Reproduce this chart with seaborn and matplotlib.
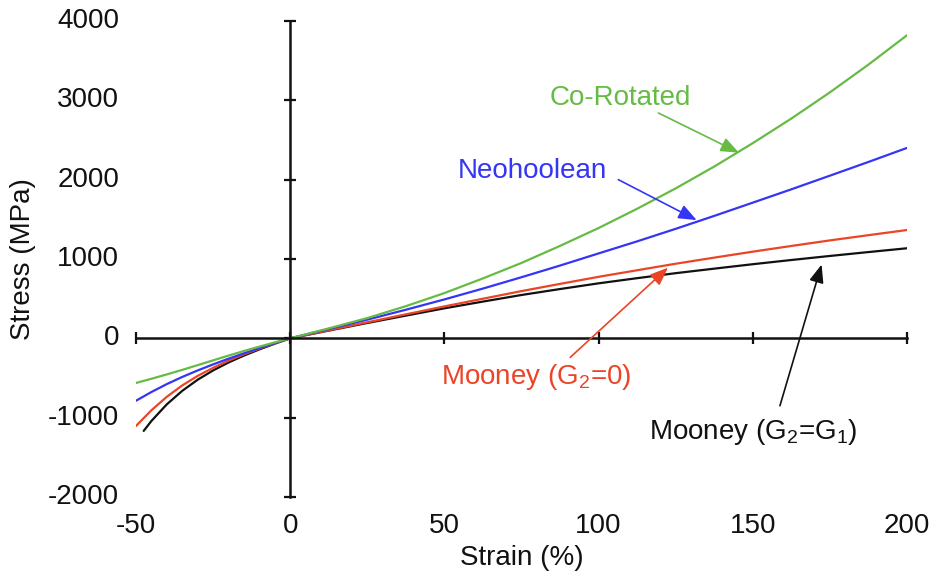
import matplotlib

matplotlib.use("Agg")
import matplotlib.pyplot as plt
import pandas as pd
import seaborn as sns

sns.set_theme(style="white")
plt.rcParams["font.family"] = ["Liberation Sans", "DejaVu Sans"]

# values (strain in %, stress in MPa)
strain = [-50, -45, -40, -35, -30, -25, -20, -15, -10, -5, 0,
          12.5, 25, 37.5, 50, 62.5, 75, 87.5, 100,
          112.5, 125, 137.5, 150, 162.5, 175, 187.5, 200]
co_rotated = [-563, -510, -455, -398, -338, -278, -218, -160, -105, -52, 0,
              125, 255, 405, 570, 755, 950, 1165, 1390,
              1633, 1890, 2165, 2460, 2770, 3100, 3450, 3820]
neohookean = [-787, -677, -577, -487, -405, -329, -257, -189, -124, -61, 0,
              117, 235, 360, 490, 627, 770, 917, 1070,
              1222, 1380, 1543, 1710, 1878, 2050, 2223, 2400]
mooney_g2_0 = [-1105, -907, -737, -594, -474, -372, -282, -202, -130, -63, 0,
               101, 202, 302, 402, 499, 595, 686, 775,
               858, 940, 1017, 1092, 1164, 1234, 1300, 1365]
strain_g2_g1 = [-47.5, -45, -40, -35, -30, -25, -20, -15, -10, -5, 0,
                12.5, 25, 37.5, 50, 62.5, 75, 87.5, 100,
                112.5, 125, 137.5, 150, 162.5, 175, 187.5, 200]
mooney_g2_g1 = [-1167, -1042, -832, -662, -522, -405, -305, -218, -140, -68, 0,
                97, 193, 286, 378, 463, 546, 621, 693,
                758, 821, 878, 934, 987, 1038, 1087, 1135]

series_names = ["Co-Rotated", "Neohoolean", "Mooney (G2=0)", "Mooney (G2=G1)"]
series_colors = ["#66bb44", "#3535f5", "#ea4526", "#111111"]

xticks = [-50, 0, 50, 100, 150, 200]
yticks = [-2000, -1000, 0, 1000, 2000, 3000, 4000]

# annotation texts, anchor (baseline centre), arrow tail and head
label_text = [
    "Co-Rotated",
    "Neohoolean",
    r"Mooney (G$_\mathregular{2}$=0)",
    r"Mooney (G$_\mathregular{2}$=G$_\mathregular{1}$)",
]
label_xy = [(107, 2940), (78.4, 2025), (79.7, -580), (150.1, -1270)]
arrow_tail = [(119.4, 2840), (106.4, 2000), (90.8, -240), (158.8, -850)]
arrow_head = [(145.5, 2340), (131.8, 1490), (122.5, 890), (172.3, 930)]

frames = []
for name, xs, ys in zip(series_names,
                        [strain, strain, strain, strain_g2_g1],
                        [co_rotated, neohookean, mooney_g2_0, mooney_g2_g1]):
    frames.append(pd.DataFrame({"strain": xs, "stress": ys, "model": name}))
df = pd.concat(frames, ignore_index=True)

fig = plt.figure(figsize=(9.34, 5.76), dpi=100)
ax = fig.add_axes([0.1456, 0.1372, 0.8255, 0.8264])

sns.lineplot(data=df, x="strain", y="stress", hue="model",
             hue_order=series_names[::-1],
             palette=dict(zip(series_names, series_colors)),
             errorbar=None, legend=False, linewidth=1.6, ax=ax)

ax.set_xlim(xticks[0], xticks[-1])
ax.set_ylim(yticks[0], yticks[-1])
ax.spines["left"].set_position(("data", 0))
ax.spines["bottom"].set_position(("data", 0))
ax.spines["top"].set_visible(False)
ax.spines["right"].set_visible(False)
for side in ("left", "bottom"):
    ax.spines[side].set_linewidth(1.8)
    ax.spines[side].set_color("#111111")

ax.set_xticks(xticks)
ax.set_yticks(yticks)
ax.tick_params(direction="inout", length=9, width=1.6, color="#111111",
               labelbottom=False, labelleft=False, bottom=True, left=True)

# tick labels sit at the frame edges, not on the zero axes
for v in xticks:
    ax.text(v, -0.061, str(v), transform=ax.get_xaxis_transform(),
            ha="center", va="center", fontsize=20, color="#111111")
for v in yticks:
    ax.text(-0.022, v, str(v), transform=ax.get_yaxis_transform(),
            ha="right", va="center", fontsize=20, color="#111111")

ax.set_xlabel("Strain (%)", fontsize=20, color="#111111")
ax.set_ylabel("Stress (MPa)", fontsize=20, color="#111111")
ax.xaxis.set_label_coords(0.5, -0.128)
ax.xaxis.label.set_va("center")
ax.yaxis.set_label_coords(-0.1466, 0.5)
ax.yaxis.label.set_va("center")

for text, xy, tail, head, color in zip(label_text, label_xy, arrow_tail,
                                       arrow_head, series_colors):
    ax.text(xy[0], xy[1], text, ha="center", va="baseline", fontsize=20,
            color=color)
    ax.annotate("", xy=head, xytext=tail,
                arrowprops=dict(arrowstyle="-|>,head_length=0.55,head_width=0.22",
                                color=color, lw=1.2, mutation_scale=20,
                                shrinkA=0, shrinkB=0))

fig.savefig("out.png", dpi=100)
